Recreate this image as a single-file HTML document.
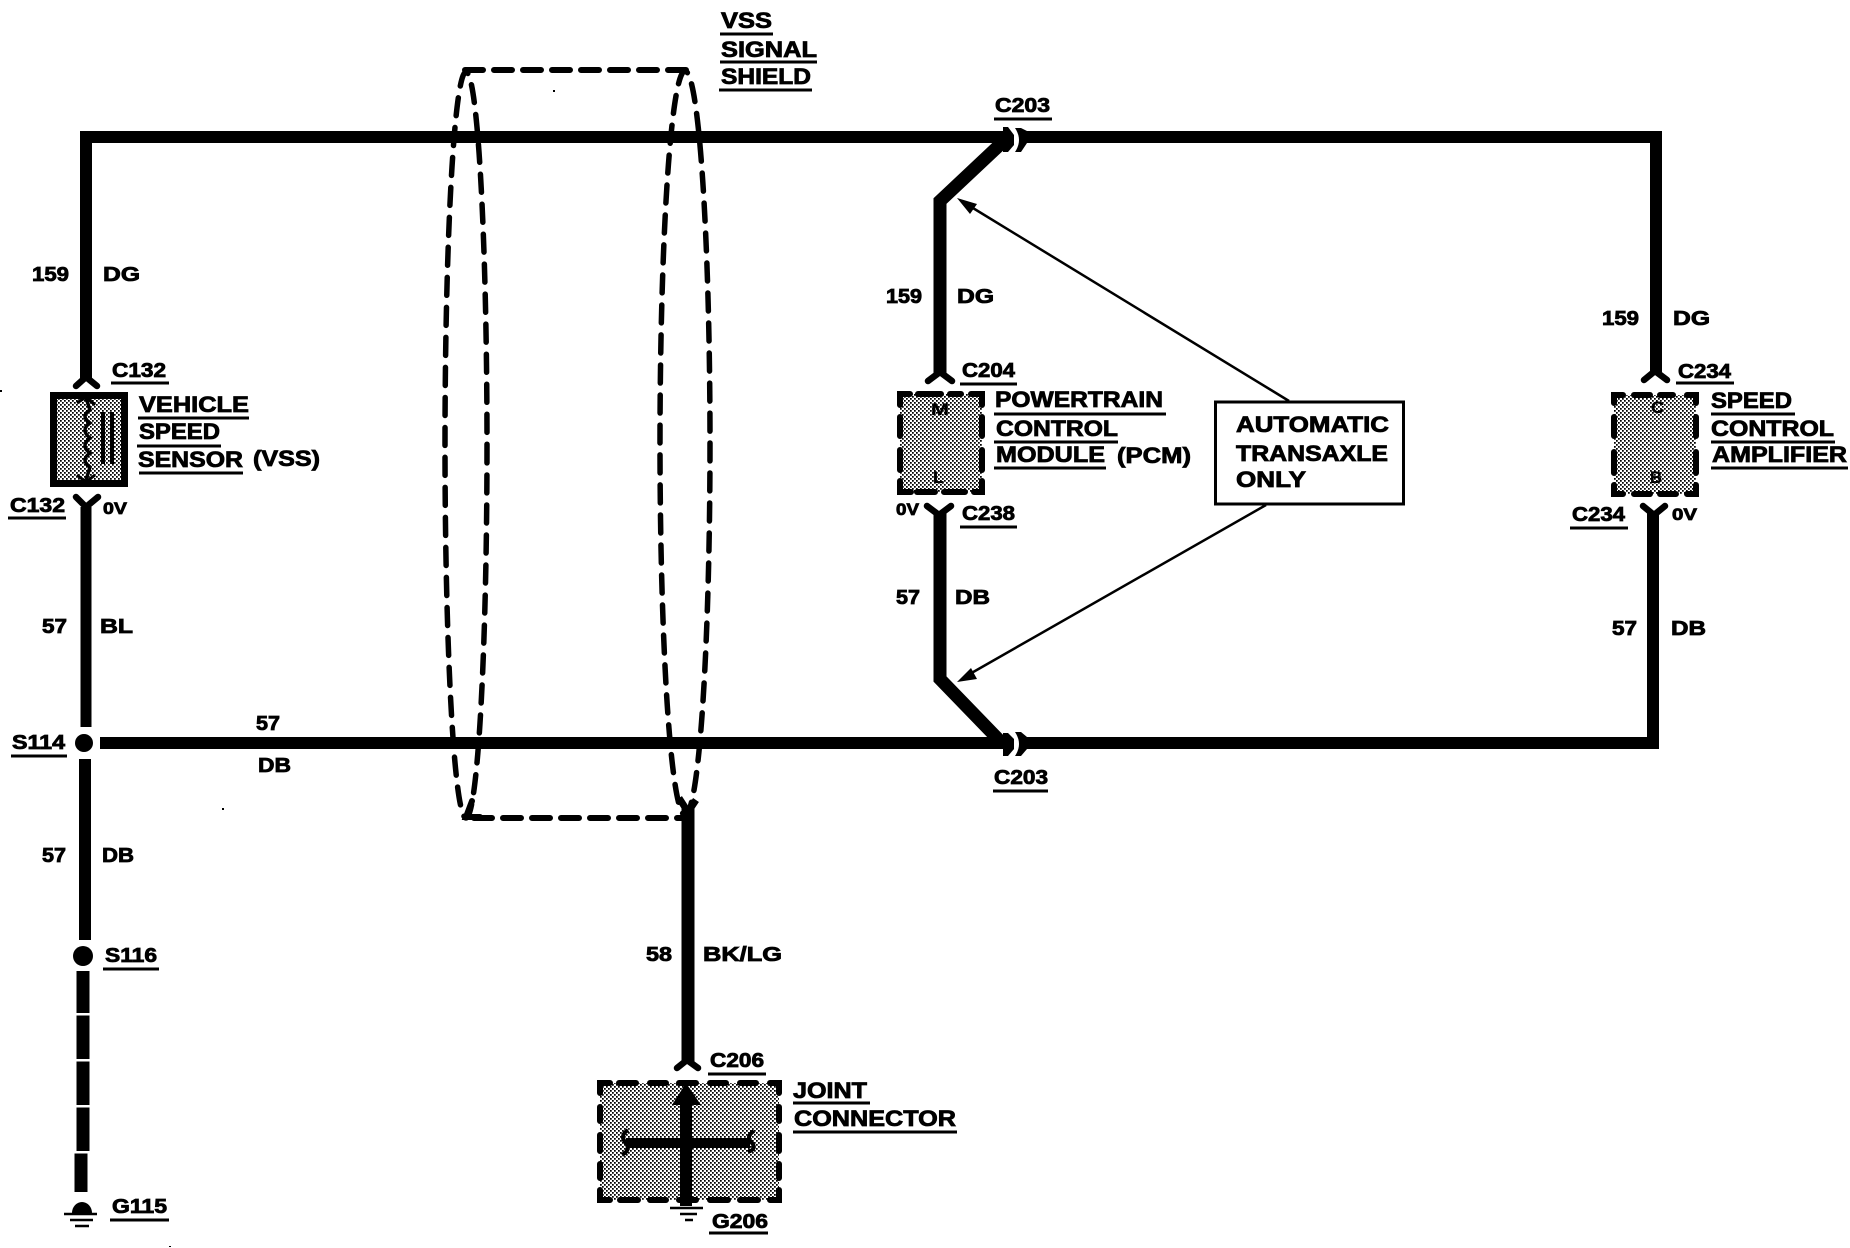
<!DOCTYPE html>
<html>
<head>
<meta charset="utf-8">
<style>
html,body{margin:0;padding:0;background:#fff;width:1850px;height:1248px;overflow:hidden}
svg{display:block}
text{font-family:"Liberation Sans",sans-serif;font-weight:bold;fill:#000;stroke:#000;stroke-width:.8px}
.n{font-size:22px}
.l{font-size:20px}
.s{font-size:17px}
.u{stroke:#000;stroke-width:3;fill:none}
.w{stroke:#000;fill:none;stroke-linecap:butt;stroke-linejoin:miter}
.f{stroke:#000;stroke-width:6.5;fill:none;stroke-linecap:round;stroke-linejoin:round}
.b{stroke:#000;stroke-width:6;fill:none;stroke-linecap:round;stroke-linejoin:miter}
</style>
</head>
<body>
<svg width="1850" height="1248" viewBox="0 0 1850 1248" xmlns="http://www.w3.org/2000/svg">
<defs>
<pattern id="st" width="4" height="4" patternUnits="userSpaceOnUse">
<rect width="4" height="4" fill="#fff"/>
<rect x="0" y="0" width="1.75" height="1.75" fill="#000"/>
<rect x="2" y="2" width="1.75" height="1.75" fill="#000"/>
</pattern>
</defs>
<rect width="1850" height="1248" fill="#fff"/>

<!-- shield ellipses -->
<g fill="none" stroke="#000" stroke-width="5.5" stroke-linecap="round">
<ellipse cx="466" cy="445" rx="21" ry="373" stroke-dasharray="18 12"/>
<ellipse cx="685" cy="443" rx="25" ry="372" stroke-dasharray="18 12"/>
<path d="M465 70H690" stroke-width="6" stroke-dasharray="18 11"/>
<path d="M474 818H690" stroke-width="6" stroke-dasharray="18 11"/>
<path d="M472 801L466 817H480" stroke-width="6"/>
</g>

<!-- main wires -->
<path class="w" stroke-width="12" d="M86 378V137H1004"/>
<path class="w" stroke-width="12" d="M1026 137H1656V372"/>
<path class="w" stroke-width="12" d="M100 743H1004"/>
<path class="w" stroke-width="12" d="M1026 743H1653V512"/>
<path class="w" stroke-width="13" d="M1006 139L940 201V374"/>
<path class="w" stroke-width="13" d="M940 512V679L1000 741"/>
<path class="w" stroke-width="11" d="M86 507V727"/>
<path class="w" stroke-width="12" d="M85 759V940"/>
<!-- left dashed ground wire -->
<path class="w" stroke-width="13" d="M83 971V1013M83 1015.5V1059M83 1061.5V1105M83 1107.5V1151M81 1153.5V1192"/>
<!-- C203 chevrons -->
<path d="M1003 127H1008L1014 135V145L1008 152H1003Z" fill="#000"/>
<path d="M1015 128H1021L1027 131V143L1021 152H1015Q1023 140 1015 128Z" fill="#000"/>
<path d="M1003 733H1008L1014 739V749L1008 756H1003Z" fill="#000"/>
<path d="M1015 732H1021L1027 737V749L1021 756H1015Q1023 744 1015 732Z" fill="#000"/>

<!-- forks -->
<path class="f" d="M76 386L86 377L97 386"/>
<path class="f" d="M76 497L86 507L98 497"/>
<path class="f" d="M928 381L940 372L952 381"/>
<path class="f" d="M927 506L939 515L951 506"/>
<path class="f" d="M1644 380L1655 371L1667 380"/>
<path class="f" d="M1643 506L1654 515L1665 506"/>
<path class="f" d="M677 1068L687 1060L698 1068"/>

<!-- dots -->
<circle cx="84" cy="743" r="9"/>
<circle cx="83" cy="956" r="10"/>
<path d="M72 1213A10 11 0 0 1 92 1213Z"/>

<!-- G115 ground -->
<path class="w" stroke-width="2.5" d="M64 1214H97M70 1220H93M75 1226H89"/>

<!-- VSS component -->
<rect x="53.5" y="395.5" width="71" height="88" fill="url(#st)" stroke="#000" stroke-width="7"/>
<path d="M86 398L90 410Q80 416 90 423Q80 430 90 438Q80 446 90 453Q80 460 90 467L86 480" fill="none" stroke="#000" stroke-width="3.5"/>
<path d="M77 403L86 397L95 405M77 475L86 482L95 475" fill="none" stroke="#000" stroke-width="3"/>
<path d="M103 412V464M112 412V464" stroke="#000" stroke-width="4"/>

<!-- PCM -->
<rect x="900" y="394" width="82" height="98" fill="url(#st)"/>
<path class="b" d="M900 405V394H910M918 394H941M950 394H961M971 394H982V405
M900 417V436M900 450V470M900 481V492H911M917 492H935M944 492H965M974 492H982V481
M982 417V436M982 450V470"/>
<text x="931" y="415" class="s" textLength="18" lengthAdjust="spacingAndGlyphs" style="stroke-width:.3px">M</text>
<text x="933" y="483" class="s" textLength="11" lengthAdjust="spacingAndGlyphs" style="stroke-width:.3px">L</text>

<!-- Speed control -->
<rect x="1614" y="395" width="82" height="99" fill="url(#st)"/>
<path class="b" d="M1614 403V395H1623M1634 395H1650M1660 395H1673M1687 395H1696V403
M1614 417V436M1614 452V473M1614 485V494H1623M1634 494H1650M1660 494H1676M1687 494H1696V485
M1696 417V436M1696 452V473"/>
<text x="1651" y="413" class="s" textLength="13" lengthAdjust="spacingAndGlyphs" style="stroke-width:.3px">C</text>
<text x="1650" y="483" class="s" textLength="12" lengthAdjust="spacingAndGlyphs" style="stroke-width:.3px">B</text>

<!-- Joint connector -->
<rect x="600" y="1083" width="179" height="117" fill="url(#st)"/>
<path class="b" d="M600 1093V1083H610M619 1083H636M650 1083H666M679 1083H696M710 1083H726M740 1083H756M770 1083H779V1093
M600 1107V1121M600 1135V1151M600 1164V1178M600 1190V1200H610M620 1200H638M650 1200H666M679 1200H696M710 1200H728M740 1200H758M770 1200H779V1190
M779 1107V1121M779 1135V1151M779 1164V1178"/>
<path d="M686 1083L701 1105H692V1206H680V1105H672Z" fill="#000"/>
<path class="w" stroke-width="10" d="M626 1143H750"/>
<path d="M628 1130Q619 1136 626 1143Q631 1150 622 1155M754 1131Q745 1137 752 1143Q757 1149 748 1152" fill="none" stroke="#000" stroke-width="4"/>
<path class="w" stroke-width="2.5" d="M670 1208H703M680 1214H697M685 1220H693"/>

<!-- 58 wire -->
<path class="w" stroke-width="13" d="M688 808V1062"/>
<path d="M679 798L688 812L696 800" fill="none" stroke="#000" stroke-width="7"/>

<!-- Arrows -->
<path stroke="#000" stroke-width="2.5" fill="none" d="M1289 401L968 205M1266 505L968 675"/>
<path d="M957 198L977 204L970 214Z" fill="#000"/>
<path d="M957 682L971 668L977 679Z" fill="#000"/>

<!-- Auto box -->
<rect x="1215.5" y="402" width="188" height="102" fill="#fff" stroke="#000" stroke-width="3"/>
<text x="1236" y="432" class="n" textLength="153" lengthAdjust="spacingAndGlyphs">AUTOMATIC</text>
<text x="1236" y="461" class="n" textLength="152" lengthAdjust="spacingAndGlyphs">TRANSAXLE</text>
<text x="1236" y="487" class="n" textLength="70" lengthAdjust="spacingAndGlyphs">ONLY</text>

<!-- underlines -->
<path class="u" d="M720 34H773M720 62H817M719 90H812
M994 119H1052M993 791H1048
M111 383H169M138 418H249M137 446H221M139 473H243M8 518H66
M960 384H1017M994 414H1166M994 442H1118M994 468H1106M960 527H1017
M1676 383H1734M1711 414H1795M1711 442H1835M1711 468H1848M1570 528H1628
M11 756H67M103 969H159M110 1220H169
M708 1074H766M709 1233H768M793 1103H870M793 1132H957"/>

<!-- labels -->
<text x="721" y="28" class="n" textLength="51" lengthAdjust="spacingAndGlyphs">VSS</text>
<text x="721" y="57" class="n" textLength="96" lengthAdjust="spacingAndGlyphs">SIGNAL</text>
<text x="721" y="84" class="n" textLength="90" lengthAdjust="spacingAndGlyphs">SHIELD</text>

<text x="995" y="112" class="l" textLength="55" lengthAdjust="spacingAndGlyphs">C203</text>
<text x="994" y="784" class="l" textLength="54" lengthAdjust="spacingAndGlyphs">C203</text>

<text x="112" y="377" class="l" textLength="54" lengthAdjust="spacingAndGlyphs">C132</text>
<text x="139" y="412" class="n" textLength="110" lengthAdjust="spacingAndGlyphs">VEHICLE</text>
<text x="139" y="439" class="n" textLength="81" lengthAdjust="spacingAndGlyphs">SPEED</text>
<text x="138" y="467" class="n" textLength="105" lengthAdjust="spacingAndGlyphs">SENSOR</text>
<text x="253" y="466" class="n" textLength="67" lengthAdjust="spacingAndGlyphs">(VSS)</text>
<text x="10" y="512" class="l" textLength="55" lengthAdjust="spacingAndGlyphs">C132</text>
<text x="103" y="514" class="s" textLength="24" lengthAdjust="spacingAndGlyphs">0V</text>

<text x="32" y="281" class="l" textLength="37" lengthAdjust="spacingAndGlyphs">159</text>
<text x="103" y="281" class="l" textLength="37" lengthAdjust="spacingAndGlyphs">DG</text>
<text x="42" y="633" class="l" textLength="25" lengthAdjust="spacingAndGlyphs">57</text>
<text x="100" y="633" class="l" textLength="33" lengthAdjust="spacingAndGlyphs">BL</text>
<text x="12" y="749" class="l" textLength="53" lengthAdjust="spacingAndGlyphs">S114</text>
<text x="256" y="730" class="l" textLength="24" lengthAdjust="spacingAndGlyphs">57</text>
<text x="258" y="772" class="l" textLength="33" lengthAdjust="spacingAndGlyphs">DB</text>
<text x="42" y="862" class="l" textLength="24" lengthAdjust="spacingAndGlyphs">57</text>
<text x="102" y="862" class="l" textLength="32" lengthAdjust="spacingAndGlyphs">DB</text>
<text x="105" y="962" class="l" textLength="52" lengthAdjust="spacingAndGlyphs">S116</text>
<text x="112" y="1213" class="l" textLength="55" lengthAdjust="spacingAndGlyphs">G115</text>

<text x="886" y="303" class="l" textLength="36" lengthAdjust="spacingAndGlyphs">159</text>
<text x="957" y="303" class="l" textLength="37" lengthAdjust="spacingAndGlyphs">DG</text>
<text x="962" y="377" class="l" textLength="53" lengthAdjust="spacingAndGlyphs">C204</text>
<text x="995" y="407" class="n" textLength="168" lengthAdjust="spacingAndGlyphs">POWERTRAIN</text>
<text x="996" y="436" class="n" textLength="122" lengthAdjust="spacingAndGlyphs">CONTROL</text>
<text x="996" y="462" class="n" textLength="109" lengthAdjust="spacingAndGlyphs">MODULE</text>
<text x="1117" y="463" class="n" textLength="74" lengthAdjust="spacingAndGlyphs">(PCM)</text>
<text x="896" y="515" class="s" textLength="23" lengthAdjust="spacingAndGlyphs">0V</text>
<text x="962" y="520" class="l" textLength="53" lengthAdjust="spacingAndGlyphs">C238</text>
<text x="896" y="604" class="l" textLength="24" lengthAdjust="spacingAndGlyphs">57</text>
<text x="955" y="604" class="l" textLength="35" lengthAdjust="spacingAndGlyphs">DB</text>

<text x="1602" y="325" class="l" textLength="37" lengthAdjust="spacingAndGlyphs">159</text>
<text x="1673" y="325" class="l" textLength="37" lengthAdjust="spacingAndGlyphs">DG</text>
<text x="1678" y="378" class="l" textLength="53" lengthAdjust="spacingAndGlyphs">C234</text>
<text x="1711" y="408" class="n" textLength="81" lengthAdjust="spacingAndGlyphs">SPEED</text>
<text x="1711" y="436" class="n" textLength="123" lengthAdjust="spacingAndGlyphs">CONTROL</text>
<text x="1712" y="462" class="n" textLength="135" lengthAdjust="spacingAndGlyphs">AMPLIFIER</text>
<text x="1572" y="521" class="l" textLength="53" lengthAdjust="spacingAndGlyphs">C234</text>
<text x="1672" y="520" class="s" textLength="25" lengthAdjust="spacingAndGlyphs">0V</text>
<text x="1612" y="635" class="l" textLength="25" lengthAdjust="spacingAndGlyphs">57</text>
<text x="1671" y="635" class="l" textLength="35" lengthAdjust="spacingAndGlyphs">DB</text>

<text x="646" y="961" class="l" textLength="26" lengthAdjust="spacingAndGlyphs">58</text>
<text x="703" y="961" class="l" textLength="79" lengthAdjust="spacingAndGlyphs">BK/LG</text>
<text x="710" y="1067" class="l" textLength="54" lengthAdjust="spacingAndGlyphs">C206</text>
<text x="793" y="1098" class="n" textLength="74" lengthAdjust="spacingAndGlyphs">JOINT</text>
<text x="794" y="1126" class="n" textLength="162" lengthAdjust="spacingAndGlyphs">CONNECTOR</text>
<text x="712" y="1228" class="l" textLength="56" lengthAdjust="spacingAndGlyphs">G206</text>

<!-- specks -->
<path fill="#000" d="M553 90h2v2h-2zM0 390h2v2h-2zM222 808h2v2h-2zM169 1246h2v1h-2z"/>
</svg>
</body>
</html>
